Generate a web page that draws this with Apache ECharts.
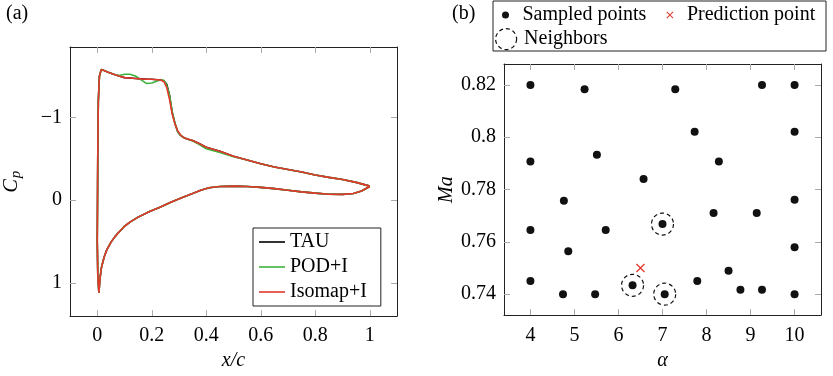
<!DOCTYPE html>
<html>
<head>
<meta charset="utf-8">
<script src="https://cdn.jsdelivr.net/npm/echarts@6/dist/echarts.min.js"></script>
<style>
  html, body { margin: 0; padding: 0; background: #fff; }
  #chart { width: 833px; height: 376px; }
</style>
</head>
<body>
<div id="chart"></div>
<script>
// ---- (a) pressure distribution, upper surface TE -> LE, then lower surface LE -> TE
const xc = [
  1.0, 0.95, 0.9, 0.85, 0.8, 0.75, 0.7, 0.65, 0.6, 0.55, 0.5, 0.45, 0.4, 0.37, 0.35, 0.33,
  0.315, 0.305, 0.295, 0.285, 0.275, 0.265, 0.255, 0.245, 0.235, 0.22, 0.2, 0.18, 0.16, 0.14,
  0.12, 0.1, 0.08, 0.06, 0.04, 0.025, 0.015, 0.008, 0.004, 0.002, 0.001, 0.0, 0.002, 0.006,
  0.01, 0.015, 0.025, 0.035, 0.05, 0.065, 0.08, 0.1, 0.12, 0.15, 0.19, 0.23, 0.27, 0.31, 0.35,
  0.38, 0.41, 0.45, 0.5, 0.55, 0.6, 0.65, 0.7, 0.75, 0.8, 0.85, 0.9, 0.94, 0.97, 1.0
];
const cpTau = [
  -0.17, -0.215, -0.25, -0.275, -0.305, -0.34, -0.37, -0.40, -0.44, -0.485, -0.53, -0.59, -0.64, -0.69, -0.72, -0.74,
  -0.76, -0.785, -0.83, -0.93, -1.06, -1.27, -1.40, -1.44, -1.45, -1.455, -1.46, -1.462, -1.465, -1.47,
  -1.475, -1.48, -1.50, -1.52, -1.545, -1.565, -1.58, -1.50, -1.20, -0.60, 0.0, 0.5, 0.9, 1.12,
  0.95, 0.82, 0.69, 0.60, 0.51, 0.44, 0.385, 0.315, 0.265, 0.205, 0.14, 0.085, 0.025, -0.03, -0.08,
  -0.12, -0.15, -0.165, -0.17, -0.165, -0.155, -0.14, -0.12, -0.10, -0.085, -0.072, -0.07, -0.08, -0.11, -0.165
];
const cpPod = [
  -0.17, -0.215, -0.25, -0.275, -0.305, -0.34, -0.37, -0.40, -0.44, -0.485, -0.525, -0.575, -0.62, -0.68, -0.715, -0.74,
  -0.76, -0.785, -0.83, -0.93, -1.07, -1.27, -1.39, -1.445, -1.455, -1.44, -1.415, -1.41, -1.455, -1.50,
  -1.52, -1.52, -1.505, -1.52, -1.545, -1.565, -1.58, -1.50, -1.20, -0.60, 0.0, 0.5, 0.9, 1.12,
  0.95, 0.82, 0.69, 0.60, 0.51, 0.44, 0.385, 0.315, 0.265, 0.205, 0.14, 0.085, 0.025, -0.03, -0.08,
  -0.12, -0.15, -0.165, -0.17, -0.165, -0.155, -0.14, -0.12, -0.10, -0.085, -0.072, -0.07, -0.08, -0.11, -0.165
];
const cpIso = [
  -0.17, -0.215, -0.25, -0.275, -0.305, -0.34, -0.37, -0.40, -0.44, -0.485, -0.53, -0.59, -0.64, -0.69, -0.72, -0.74,
  -0.76, -0.79, -0.84, -0.92, -1.04, -1.22, -1.36, -1.43, -1.45, -1.455, -1.46, -1.462, -1.465, -1.47,
  -1.475, -1.48, -1.50, -1.52, -1.545, -1.565, -1.58, -1.50, -1.20, -0.60, 0.0, 0.5, 0.9, 1.12,
  0.95, 0.82, 0.69, 0.60, 0.51, 0.44, 0.385, 0.315, 0.265, 0.205, 0.14, 0.085, 0.025, -0.03, -0.08,
  -0.12, -0.15, -0.165, -0.17, -0.165, -0.155, -0.14, -0.12, -0.10, -0.085, -0.072, -0.07, -0.08, -0.11, -0.165
];
const xTicks = [0, 0.2, 0.4, 0.6, 0.8, 1];
const cpTicks = [-1, 0, 1];

// ---- (b) parameter space
const alphaSampled = [4, 5.23, 7.29, 9.26, 10, 7.73, 10, 4, 5.51, 8.28, 6.57, 4.76, 10, 8.16, 9.14,
  7.0, 4, 5.71, 10, 4.86, 8.5, 4, 7.79, 6.32, 4.74, 5.47, 7.05, 8.77, 9.26, 10];
const maSampled = [0.82, 0.8183, 0.8183, 0.82, 0.82, 0.8021, 0.8021, 0.7907, 0.7933, 0.7907, 0.784, 0.7757, 0.7761, 0.771, 0.771,
  0.7668, 0.7645, 0.7645, 0.7579, 0.7564, 0.749, 0.745, 0.745, 0.7434, 0.74, 0.74, 0.74, 0.7417, 0.7417, 0.74];
const alphaPredict = [6.5];
const maPredict = [0.75];
const alphaNeighbors = [7.0, 6.32, 7.05];
const maNeighbors = [0.7668, 0.7434, 0.74];
const alphaTicks = [4, 5, 6, 7, 8, 9, 10];
const maTicks = [0.74, 0.76, 0.78, 0.8, 0.82];

const FONT = "'Liberation Serif', 'Times New Roman', serif";
const RED = '#e3392c';
const GREEN = '#3cb43c';
const crossPath = 'path://M1,0L5,4L9,0L10,1L6,5L10,9L9,10L5,6L1,10L0,9L4,5L0,1Z';
const txt = { fontFamily: FONT, fontSize: 20, color: '#000' };

function zip(a, b) { return a.map((v, i) => [v, b[i]]); }
function minus(v) { return v < 0 ? '\u2212' + Math.abs(v) : String(v); }

// one side of a framed box axis, ticks inside, labels optional
function boxAxis(grid, pos, min, max, ticks, labels, extra) {
  return Object.assign({
    type: 'value', gridIndex: grid, position: pos, min: min, max: max,
    axisLine: { show: true, onZero: false, lineStyle: { color: '#222', width: 1 } },
    axisTick: { show: true, inside: true, length: 6, customValues: ticks, lineStyle: { color: '#aaa', width: 1 } },
    axisLabel: { show: labels, customValues: ticks, fontFamily: FONT, fontSize: 20, color: '#000', formatter: minus },
    splitLine: { show: false }
  }, extra || {});
}

const chart = echarts.init(document.getElementById('chart'));
const option = {
  animation: false,
  textStyle: { fontFamily: FONT },
  title: [
    { text: '(a)', left: 6, top: 4, padding: 0, textStyle: Object.assign({ fontWeight: 'normal' }, txt) },
    { text: '(b)', left: 452, top: 4, padding: 0, textStyle: Object.assign({ fontWeight: 'normal' }, txt) }
  ],
  grid: [
    { left: 70, top: 47, width: 327, height: 271 },
    { left: 504, top: 64, width: 317, height: 264 }
  ],
  xAxis: [
    boxAxis(0, 'bottom', -0.1, 1.1, xTicks, true, {
      name: 'x/c', nameLocation: 'middle', nameGap: 32,
      nameTextStyle: Object.assign({ fontStyle: 'italic' }, txt)
    }),
    boxAxis(0, 'top', -0.1, 1.1, xTicks, false),
    boxAxis(1, 'bottom', 3.4, 10.6, alphaTicks, true, {
      name: 'α', nameLocation: 'middle', nameGap: 24,
      nameTextStyle: Object.assign({ fontStyle: 'italic' }, txt)
    }),
    boxAxis(1, 'top', 3.4, 10.6, alphaTicks, false)
  ],
  yAxis: [
    boxAxis(0, 'left', -1.85, 1.40, cpTicks, true, {
      inverse: true, name: '{c|C}{p|p}', nameLocation: 'middle', nameGap: 46, nameRotate: 90,
      nameTextStyle: {
        color: '#000',
        rich: {
          c: { fontFamily: FONT, fontSize: 20, fontStyle: 'italic', color: '#000' },
          p: { fontFamily: FONT, fontSize: 15, fontStyle: 'italic', color: '#000', padding: [10, 0, 0, 1] }
        }
      }
    }),
    boxAxis(0, 'right', -1.85, 1.40, cpTicks, false, { inverse: true }),
    boxAxis(1, 'left', 0.732, 0.828, maTicks, true, {
      name: 'Ma', nameLocation: 'middle', nameGap: 47, nameRotate: 90,
      nameTextStyle: Object.assign({ fontStyle: 'italic' }, txt)
    }),
    boxAxis(1, 'right', 0.732, 0.828, maTicks, false)
  ],
  legend: [
    {
      data: ['TAU', 'POD+I', 'Isomap+I'], orient: 'vertical', left: 253, top: 228,
      icon: 'rect', itemWidth: 26, itemHeight: 1.6, itemGap: 5, padding: [4, 14, 4, 6],
      borderColor: '#222', borderWidth: 1, borderRadius: 0,
      textStyle: txt
    },
    {
      data: ['Sampled points', 'Prediction point'], left: 502, top: 5, padding: 0,
      itemWidth: 24, itemHeight: 7, itemGap: 20,
      textStyle: txt
    },
    {
      data: [{ name: 'Neighbors', itemStyle: { color: 'transparent', borderColor: '#111', borderWidth: 1.2, borderType: [4, 3] } }],
      left: 495, top: 28, padding: 0, itemWidth: 26, itemHeight: 21,
      textStyle: txt
    }
  ],
  graphic: [
    { type: 'rect', shape: { x: 493, y: 1, width: 333, height: 50 }, style: { fill: 'none', stroke: '#222', lineWidth: 1 } }
  ],
  series: [
    { name: 'TAU', type: 'line', xAxisIndex: 0, yAxisIndex: 0, symbol: 'none', color: '#000',
      lineStyle: { width: 1.6, color: '#000' }, data: zip(xc, cpTau) },
    { name: 'POD+I', type: 'line', xAxisIndex: 0, yAxisIndex: 0, symbol: 'none', color: GREEN,
      lineStyle: { width: 1.6, color: GREEN }, data: zip(xc, cpPod) },
    { name: 'Isomap+I', type: 'line', xAxisIndex: 0, yAxisIndex: 0, symbol: 'none', color: RED,
      lineStyle: { width: 1.6, color: RED }, data: zip(xc, cpIso) },
    { name: 'Sampled points', type: 'scatter', xAxisIndex: 2, yAxisIndex: 2, symbol: 'circle', symbolSize: 8,
      itemStyle: { color: '#111', opacity: 1 }, data: zip(alphaSampled, maSampled) },
    { name: 'Prediction point', type: 'scatter', xAxisIndex: 2, yAxisIndex: 2, symbol: crossPath, symbolSize: 9,
      itemStyle: { color: RED, opacity: 1 }, data: zip(alphaPredict, maPredict) },
    { name: 'Neighbors', type: 'scatter', xAxisIndex: 2, yAxisIndex: 2, symbol: 'circle', symbolSize: 22,
      itemStyle: { color: 'transparent', borderColor: '#111', borderWidth: 1.2, borderType: [4, 3], opacity: 1 },
      data: zip(alphaNeighbors, maNeighbors) }
  ]
};
// tick label gap below the boxes
option.xAxis[0].axisLabel.margin = 10;
option.xAxis[2].axisLabel.margin = 11;
chart.setOption(option);
</script>
</body>
</html>
